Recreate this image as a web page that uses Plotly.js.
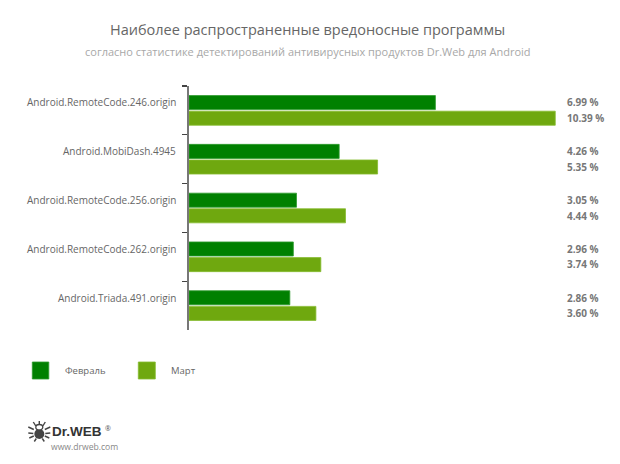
<!DOCTYPE html>
<html><head><meta charset="utf-8">
<script src="https://cdn.plot.ly/plotly-3.0.1.min.js"></script>
<style>html,body{margin:0;padding:0;background:#fff}#c{width:620px;height:464px}</style>
</head><body><div id="c"></div>
<script>
const categories=["Android.RemoteCode.246.origin","Android.MobiDash.4945","Android.RemoteCode.256.origin","Android.RemoteCode.262.origin","Android.Triada.491.origin"];
const february=[6.99,4.26,3.05,2.96,2.86];
const march=[10.39,5.35,4.44,3.74,3.60];
const seriesNames=["Февраль","Март"];
const titleText="Наиболее распространенные вредоносные программы";
const subtitleText="согласно статистике детектирований антивирусных продуктов Dr.Web для Android";
const W=620,H=464;
const M={l:188.7,r:8.3,t:86,b:134};
const FONT="'Open Sans', sans-serif";
const px=x=>(x-M.l)/(W-M.l-M.r), py=y=>1-(y-M.t)/(H-M.t-M.b);
const fmt=v=>v.toFixed(2)+" %";
const C=["#008000","#6fa80f"];
const traces=[february,march].map((vals,i)=>({
  type:"bar",orientation:"h",name:seriesNames[i],y:categories,x:vals,
  marker:{color:C[i],line:{color:i?"#86bb30":"#2f9a2f",width:0.8}},hoverinfo:"x+y"
}));
const annotations=[];
function addText(x,y,text,size,color,anchor,bold){
  annotations.push({xref:"paper",yref:"paper",x:px(x),y:py(y),text:bold?"<b>"+text+"</b>":text,showarrow:false,
    xanchor:anchor,yanchor:"middle",borderpad:0,font:{family:FONT,size:size,color:color}});
}
addText(307.5,30,titleText,14.5,"#666","center");
addText(307.5,52,subtitleText,11,"#a8a8a8","center");
categories.forEach((c,i)=>{
  annotations.push({xref:"paper",yref:"y",x:px(178),y:c,yshift:8,text:c,showarrow:false,xanchor:"right",yanchor:"middle",
    font:{family:FONT,size:10,color:"#666"}});
  [february,march].forEach((s,j)=>{
    annotations.push({xref:"paper",yref:"y",x:px(565),y:c,yshift:j?-7.5:8,text:"<b>"+fmt(s[i])+"</b>",
      showarrow:false,xanchor:"left",yanchor:"middle",font:{family:FONT,size:10,color:"#777"}});
  });
});
addText(64,370,seriesNames[0],9.5,"#666","left");
addText(170,370,seriesNames[1],9.5,"#666","left");
annotations.push({xref:"paper",yref:"paper",x:px(51),y:py(431.5),text:"<b>Dr.WEB</b>",showarrow:false,xanchor:"left",yanchor:"middle",borderpad:0,
  font:{family:"'Liberation Sans',sans-serif",size:13.5,color:"#333"}});
addText(104,428,"®",7,"#555","left");
addText(50,446.5,"www.drweb.com",8.6,"#888","left");
const shapes=[
 {type:"rect",xref:"paper",yref:"paper",x0:px(32),x1:px(48.5),y0:py(379),y1:py(362),fillcolor:C[0],line:{color:"#2f9a2f",width:.8}},
 {type:"rect",xref:"paper",yref:"paper",x0:px(138),x1:px(155),y0:py(379),y1:py(362),fillcolor:C[1],line:{color:"#86bb30",width:.8}},
 {type:"circle",xref:"paper",yref:"paper",x0:px(34),x1:px(44),y0:py(439),y1:py(429),fillcolor:"#444",line:{width:0}},
 {type:"circle",xref:"paper",yref:"paper",x0:px(35.5),x1:px(42.5),y0:py(430),y1:py(424.5),fillcolor:"#fff",line:{color:"#444",width:1.3}}
];
[[33,422,35.5,426],[45,422,42.5,426],[39,421,39,424],[28,427,33.5,429.5],[50,427,44.5,429.5],[28,433,33,433.5],[50,433,45,433.5],[29,438,33.5,436],[49,438,44.5,436],[34,441.5,36,438.5],[44,441.5,42,438.5]].forEach(s=>{
  shapes.push({type:"line",xref:"paper",yref:"paper",x0:px(s[0]),y0:py(s[1]),x1:px(s[2]),y1:py(s[3]),line:{color:"#444",width:1.4}});
});
const layout={
  width:W,height:H,paper_bgcolor:"#fff",plot_bgcolor:"#fff",showlegend:false,
  margin:{l:M.l,r:M.r,t:M.t,b:M.b,pad:0},
  barmode:"group",bargap:0.36,bargroupgap:0.1,
  xaxis:{range:[0,12],visible:false,fixedrange:true},
  yaxis:{type:"category",autorange:"reversed",tickson:"boundaries",ticks:"outside",ticklen:5,tickwidth:1.2,tickcolor:"#444",
    showline:true,linecolor:"#777",linewidth:1.8,showgrid:false,zeroline:false,showticklabels:false},
  font:{family:FONT},annotations,shapes
};
Plotly.newPlot("c",traces,layout,{displayModeBar:false,staticPlot:true});
</script></body></html>
